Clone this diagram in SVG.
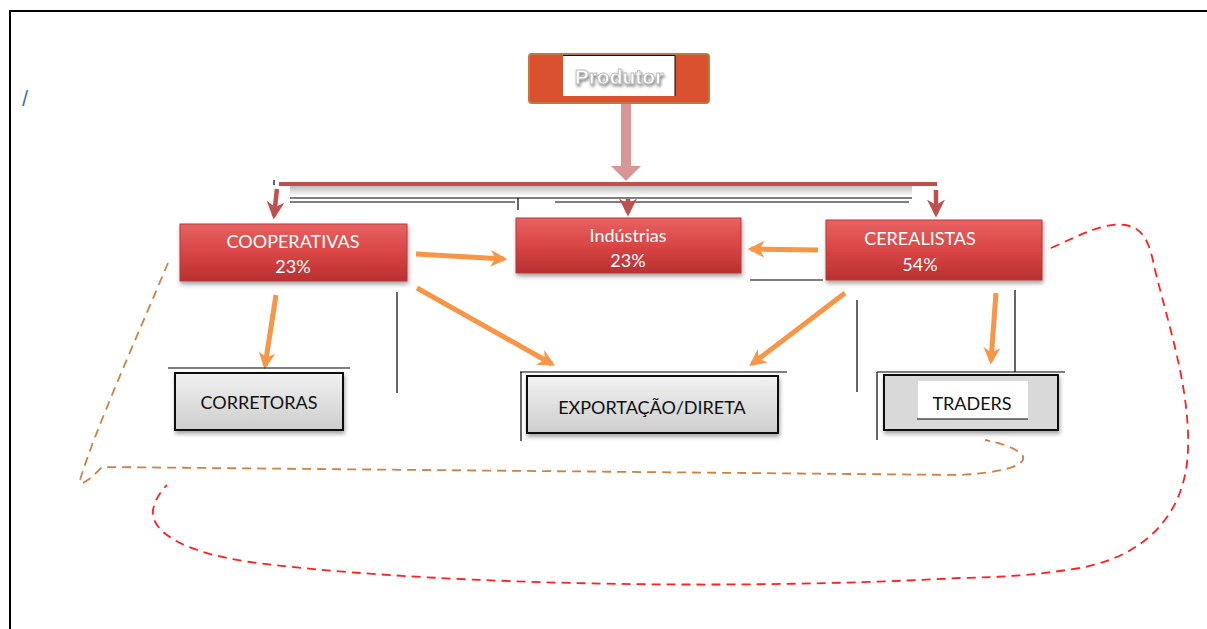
<svg xmlns="http://www.w3.org/2000/svg" width="1207" height="629" viewBox="0 0 1207 629">
<style>
.lbl{font-family:Lato,"Open Sans","Liberation Sans",sans-serif;font-size:18px;fill:#fff;text-anchor:middle}
.dlbl{font-family:Lato,"Open Sans","Liberation Sans",sans-serif;font-size:18px;fill:#111;text-anchor:middle}
.thin{stroke:#000;stroke-width:1.2;fill:none}
.oarr{stroke:#F79646;stroke-width:5;fill:none;marker-end:url(#oh)}
.rarr{stroke:#C0504D;stroke-width:4.5;fill:none;marker-end:url(#rh)}
.redbox{fill:url(#rg);stroke:#B43A3A;stroke-width:1;filter:url(#sh)}
.graybox{fill:url(#gg);stroke:#111;stroke-width:2;filter:url(#sh)}
</style>
<defs>
<linearGradient id="rg" x1="0" y1="0" x2="0" y2="1">
<stop offset="0" stop-color="#E86262"/><stop offset="0.5" stop-color="#D94545"/><stop offset="1" stop-color="#B83030"/>
</linearGradient>
<linearGradient id="gg" x1="0" y1="0" x2="0" y2="1">
<stop offset="0" stop-color="#F2F2F2"/><stop offset="1" stop-color="#CDCDCD"/>
</linearGradient>
<linearGradient id="shad" x1="0" y1="0" x2="0" y2="1">
<stop offset="0" stop-color="#BDBDBD"/><stop offset="1" stop-color="#FFFFFF"/>
</linearGradient>
<filter id="sh" x="-10%" y="-10%" width="120%" height="130%">
<feDropShadow dx="1" dy="3" stdDeviation="2" flood-color="#000" flood-opacity="0.35"/>
</filter>
<filter id="tg" x="-20%" y="-40%" width="140%" height="180%">
<feDropShadow dx="1" dy="2" stdDeviation="1.5" flood-color="#666" flood-opacity="0.8"/>
</filter>
<marker id="oh" viewBox="0 0 10 10" refX="8" refY="5" markerWidth="3.4" markerHeight="3.4" orient="auto" markerUnits="strokeWidth">
<path d="M0,0 L10,5 L0,10 L3,5 Z" fill="#F79646"/>
</marker>
<marker id="rh" viewBox="0 0 10 10" refX="8" refY="5" markerWidth="4" markerHeight="4" orient="auto" markerUnits="strokeWidth">
<path d="M0,0 L10,5 L0,10 L3,5 Z" fill="#C0504D"/>
</marker>
</defs>
<rect width="1207" height="629" fill="#fff"/>
<path d="M10 629 V11 H1207" fill="none" stroke="#000" stroke-width="2"/>
<text x="22" y="106" font-family="'Liberation Sans',sans-serif" font-size="22" fill="#4472C4">/</text>

<g id="connectors">
<rect x="621" y="103" width="10" height="66" fill="#DA9696"/>
<path d="M611 166 L641 166 L626 181 Z" fill="#DA9696"/>
<rect x="290" y="186" width="622" height="10" fill="url(#shad)"/>
<line x1="279" y1="184" x2="937" y2="184" stroke="#C0504D" stroke-width="4"/>
<line x1="274" y1="180" x2="274" y2="185" class="thin"/>
<line x1="290" y1="198" x2="912" y2="198" class="thin"/>
<line x1="290" y1="202" x2="515" y2="202" class="thin"/>
<line x1="555" y1="202" x2="909" y2="202" class="thin"/>
<line x1="518" y1="198" x2="518" y2="210" class="thin"/>
<line x1="277" y1="189" x2="274" y2="216" class="rarr"/>
<line x1="628" y1="199" x2="628" y2="213" class="rarr"/>
<line x1="936" y1="190" x2="936" y2="214" class="rarr"/>
<line x1="416" y1="254" x2="504" y2="259" class="oarr"/>
<line x1="818" y1="250" x2="751" y2="249" class="oarr"/>
<line x1="276" y1="295" x2="265" y2="366" class="oarr"/>
<line x1="417" y1="288" x2="552" y2="364" class="oarr"/>
<line x1="845" y1="293" x2="752" y2="364" class="oarr"/>
<line x1="996" y1="293" x2="991" y2="361" class="oarr"/>
<line x1="397" y1="292" x2="397" y2="393" class="thin"/>
<line x1="168" y1="368" x2="350" y2="368" class="thin"/>
<line x1="520" y1="372" x2="787" y2="372" class="thin"/>
<line x1="521" y1="372" x2="521" y2="441" class="thin"/>
<line x1="750" y1="280" x2="823" y2="280" class="thin"/>
<line x1="857" y1="300" x2="857" y2="392" class="thin"/>
<line x1="1015" y1="290" x2="1015" y2="372" class="thin"/>
<line x1="877" y1="372" x2="1065" y2="372" class="thin"/>
<line x1="877" y1="372" x2="877" y2="440" class="thin"/>
<path d="M168 263 C140 330 95 430 80 480 C78 488 90 480 102 467 L960 475 C1045 470 1035 450 985 440" fill="none" stroke="#D08040" stroke-width="1.8" stroke-dasharray="9 6"/>
<path d="M1051 248 C1080 235 1105 222 1125 225 C1145 228 1150 245 1155 270 C1170 330 1190 390 1188 450 C1186 510 1150 555 1080 568 C1030 576 1000 577 960 578 C700 592 400 582 250 562 C180 552 150 530 153 510 C155 500 160 492 167 485" fill="none" stroke="#FF2020" stroke-width="1.8" stroke-dasharray="9 6"/>
</g>

<g id="produtor">
<rect x="529" y="54" width="180" height="49" rx="3" fill="#D9512F" stroke="#C0783C" stroke-width="2"/>
<rect x="563" y="55" width="112" height="41" fill="#fff"/>
<path d="M563 55.5 H675 V96" fill="none" stroke="#000" stroke-width="1"/>
<text x="619" y="84" font-family="'Liberation Sans',sans-serif" font-size="21" font-weight="bold" fill="#fff" stroke="#bbb" stroke-width="0.8" text-anchor="middle" filter="url(#tg)">Produtor</text>
</g>

<g id="cooperativas">
<rect x="180" y="224" width="227" height="57" class="redbox"/>
<text x="293" y="248" class="lbl">COOPERATIVAS</text>
<text x="293" y="273" class="lbl">23%</text>
</g>

<g id="industrias">
<rect x="516" y="218" width="225" height="55" class="redbox"/>
<text x="628" y="242" class="lbl">Indústrias</text>
<text x="628" y="267" class="lbl">23%</text>
</g>

<g id="cerealistas">
<rect x="826" y="220" width="216" height="60" class="redbox"/>
<text x="920" y="245" class="lbl">CEREALISTAS</text>
<text x="920" y="271" class="lbl">54%</text>
</g>

<g id="corretoras">
<rect x="175" y="373" width="168" height="57" class="graybox"/>
<text x="259" y="409" class="dlbl">CORRETORAS</text>
</g>

<g id="exportacao">
<rect x="527" y="376" width="251" height="57" class="graybox"/>
<text x="652" y="414" class="dlbl">EXPORTAÇÃO/DIRETA</text>
</g>

<g id="traders">
<rect x="884" y="375" width="174" height="55" fill="#D9D9D9" stroke="#111" stroke-width="2" filter="url(#sh)"/>
<rect x="918" y="381" width="110" height="38" fill="#fff"/>
<line x1="917" y1="419" x2="1028" y2="419" stroke="#000" stroke-width="1"/>
<text x="972" y="410" class="dlbl" font-size="17">TRADERS</text>
</g>
</svg>
